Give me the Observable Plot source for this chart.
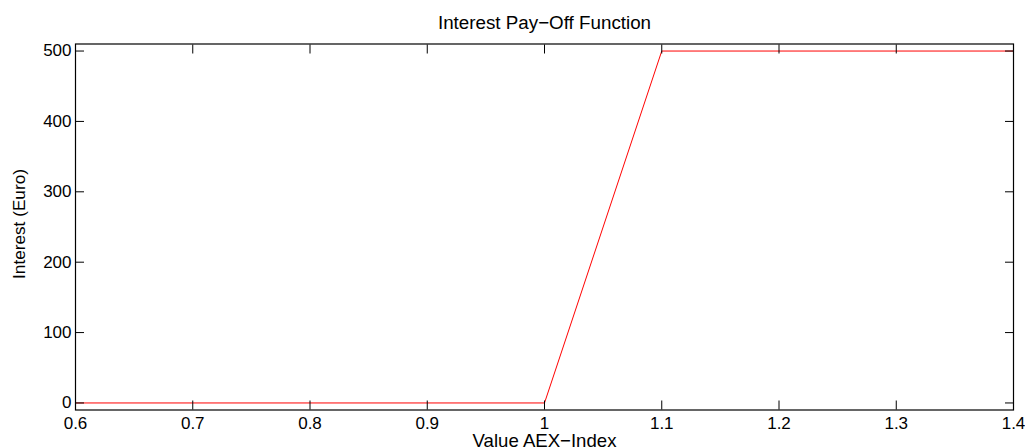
<!DOCTYPE html>
<html>
<head>
<meta charset="utf-8">
<script src="https://cdn.jsdelivr.net/npm/d3@7"></script>
<script src="https://cdn.jsdelivr.net/npm/@observablehq/plot@0.6"></script>
<style>
  html, body { margin: 0; padding: 0; background: #fff; }
  #chart svg { display: block; }
</style>
</head>
<body>
<div id="chart"></div>
<script>
const aexValues = [0.6, 0.7, 0.8, 0.9, 1.0, 1.1, 1.2, 1.3, 1.4];
const interestValues = [0, 0, 0, 0, 0, 500, 500, 500, 500];
const xTicks = [0.6, 0.7, 0.8, 0.9, 1.0, 1.1, 1.2, 1.3, 1.4];
const yTicks = [0, 100, 200, 300, 400, 500];
const titleText = "Interest Pay\u2212Off Function";
const xLabel = "Value AEX\u2212Index";
const yLabel = "Interest (Euro)";

const data = aexValues.map((x, i) => ({x, y: interestValues[i]}));
const font = "'Liberation Sans', Arial, Helvetica, sans-serif";
const fmt = d => String(+d.toFixed(4));

const plot = Plot.plot({
  width: 1025,
  height: 448,
  marginLeft: 75,
  marginRight: 12,
  marginTop: 43.5,
  marginBottom: 38.5,
  style: {fontFamily: font, color: "#000", background: "#fff", overflow: "visible"},
  x: {domain: [0.6, 1.4]},
  y: {domain: [-10, 510]},
  marks: [
    Plot.line(data, {x: "x", y: "y", stroke: "#ff0000", strokeWidth: 1}),
    Plot.axisX(xTicks, {anchor: "bottom", tickSize: -9, tickFormat: () => "", label: null}),
    Plot.axisX(xTicks, {anchor: "top", tickSize: -9, tickFormat: () => "", label: null}),
    Plot.axisY(yTicks, {anchor: "left", tickSize: -9, tickFormat: () => "", label: null}),
    Plot.axisY(yTicks, {anchor: "right", tickSize: -9, tickFormat: () => "", label: null}),
    Plot.axisX(xTicks, {anchor: "bottom", tickSize: 0, tickPadding: 7, fontSize: 17, tickFormat: fmt, label: null}),
    Plot.axisY(yTicks, {anchor: "left", tickSize: 0, tickPadding: 4, fontSize: 17, tickFormat: fmt, label: null}),
    Plot.frame({stroke: "#000", strokeWidth: 1.2}),
    Plot.text([titleText], {frameAnchor: "top", lineAnchor: "middle", textAnchor: "middle", dy: -21, fontSize: 18.8, fill: "#000"}),
    Plot.text([xLabel], {frameAnchor: "bottom", lineAnchor: "middle", textAnchor: "middle", dy: 31, fontSize: 18.6, fill: "#000"}),
    Plot.text([yLabel], {frameAnchor: "left", lineAnchor: "middle", textAnchor: "middle", dx: -56, dy: -3, rotate: -90, fontSize: 17.2, fill: "#000"})
  ]
});
document.getElementById("chart").appendChild(plot);
</script>
</body>
</html>
